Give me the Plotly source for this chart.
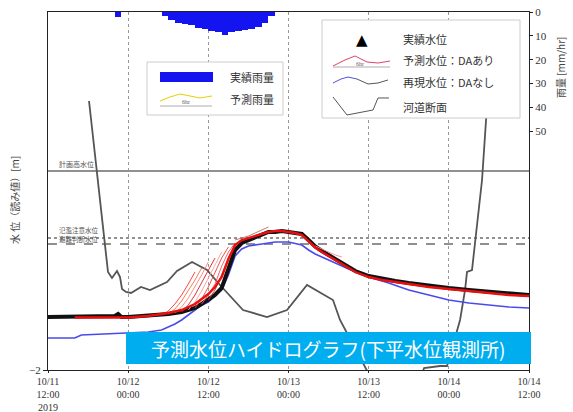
import pandas as pd
import plotly.graph_objects as go

T0 = pd.Timestamp("2019-10-11 12:00")

# ---------------- data ----------------
# hours after 2019-10-11 12:00
obs_hours = [0, 3, 6, 9, 10, 10.5, 11, 12, 15, 18, 20, 21, 22, 23, 24, 25, 26, 27, 28, 29, 30,
             31, 32, 33, 34, 35, 36, 37, 38, 39, 40, 41, 42, 43, 44, 45, 46, 48, 50, 52, 54,
             57, 60, 63, 66, 69, 72]
obs_level = [-0.94, -0.94, -0.94, -0.94, -0.92, -0.88, -0.94, -0.94, -0.92, -0.88, -0.84, -0.80,
             -0.76, -0.68, -0.60, -0.50, -0.36, 0.00, 0.40, 0.54, 0.60, 0.66, 0.70, 0.76, 0.76,
             0.78, 0.76, 0.74, 0.72, 0.60, 0.47, 0.38, 0.30, 0.22, 0.14, 0.06, -0.02, -0.12,
             -0.18, -0.22, -0.26, -0.32, -0.36, -0.40, -0.44, -0.48, -0.50]

da_hours = [4, 6, 9, 10, 11, 12, 15, 18, 20, 21, 22, 23, 24, 25, 26, 27, 28, 29, 30, 31, 32, 33,
            34, 35, 36, 37, 38, 39, 40, 41, 42, 43, 44, 45, 46, 48, 50, 52, 54, 57, 60, 63, 66,
            69, 72]
da_level = [-0.95, -0.95, -0.95, -0.94, -0.95, -0.95, -0.92, -0.86, -0.80, -0.74, -0.68, -0.58,
            -0.48, -0.34, -0.14, 0.22, 0.50, 0.60, 0.64, 0.68, 0.72, 0.76, 0.78, 0.78, 0.76,
            0.74, 0.70, 0.58, 0.45, 0.36, 0.28, 0.20, 0.12, 0.04, -0.04, -0.14, -0.20, -0.24,
            -0.28, -0.34, -0.38, -0.42, -0.46, -0.50, -0.52]

nda_hours = [0, 4, 5, 12, 15, 17, 19, 20, 21, 22, 23, 24, 25, 26, 27, 28, 29, 30, 32, 34, 36,
             38, 39, 40, 42, 45, 48, 51, 54, 57, 60, 63, 66, 69, 72]
nda_level = [-1.36, -1.36, -1.30, -1.26, -1.24, -1.20, -1.08, -1.00, -0.90, -0.80, -0.70, -0.64,
             -0.52, -0.40, -0.10, 0.28, 0.42, 0.48, 0.52, 0.56, 0.56, 0.50, 0.40, 0.32, 0.20,
             0.02, -0.14, -0.26, -0.40, -0.50, -0.60, -0.66, -0.70, -0.74, -0.76]

fc_start = [17, 18, 19, 20, 21, 22, 23, 24, 28, 40]
fc_values = [
    [-0.90, -0.82, -0.68, -0.50, -0.28, -0.04],
    [-0.88, -0.78, -0.62, -0.42, -0.20, 0.04],
    [-0.86, -0.74, -0.56, -0.34, -0.10, 0.16],
    [-0.84, -0.70, -0.50, -0.26, 0.00, 0.24],
    [-0.80, -0.64, -0.42, -0.16, 0.12, 0.36],
    [-0.76, -0.58, -0.34, -0.04, 0.24, 0.46],
    [-0.68, -0.50, -0.28, 0.08, 0.36, 0.54],
    [-0.60, -0.40, -0.10, 0.24, 0.50, 0.60],
    [0.60, 0.64, 0.68, 0.74, 0.80, 0.86],
    [0.48, 0.42, 0.36, 0.30, 0.26],
]
fc_colors = ["#ff3030", "#f07040", "#ff8080", "#d82020", "#f4a0a0", "#e84040",
             "#ff5050", "#c83030", "#b07060", "#f09090"]

sec_hours = [6.14, 8.98, 9.58, 10.33, 10.78, 11.08, 11.68, 12.43, 13.92, 15.27, 17.81, 19.31,
             21.56, 23.80, 25.75, 29.19, 32.78, 35.78, 38.77, 42.66, 43.71, 47.90, 48.5, 55.69,
             56.29, 58.68, 59.73, 61.68, 62.43, 62.72, 63.47, 63.92, 64.97, 66.17]
sec_level = [3.38, -0.04, -0.16, -0.02, -0.14, -0.38, -0.44, -0.46, -0.34, -0.40, -0.24, -0.02,
             0.16, 0.00, -0.30, -0.80, -0.94, -0.80, -0.30, -0.60, -1.00, -2.04, -2.2, -2.2,
             -1.96, -1.92, -1.92, -1.00, -0.40, -0.04, 0.00, 0.54, 1.80, 4.20]

rain_hours = [10, 17, 18, 19, 20, 21, 22, 23, 24, 25, 26, 27, 28, 29, 30, 31, 32, 33]
rain_mm = [2.0, 1.5, 3.5, 4.5, 5.0, 5.5, 6.5, 7.0, 8.0, 8.5, 9.5, 8.5, 8.0, 7.5, 7.0, 6.2, 4.5, 1.5]

levels = [1.98, 0.64, 0.52]
level_names = ["計画高水位", "氾濫注意水位", "避難判断水位"]

tick_hours = [0, 12, 24, 36, 48, 60, 72]
tick_text = ["10/11<br>12:00<br>2019", "10/12<br>00:00", "10/12<br>12:00", "10/13<br>00:00",
             "10/13<br>12:00", "10/14<br>00:00", "10/14<br>12:00"]


def t(hours):
    return [T0 + pd.Timedelta(hours=h) for h in hours]


# ---------------- layout helpers (page pixel -> paper) ----------------
W, H = 573, 412
PL, PR, PT, PB = 48, 529, 12, 370   # plot area in page pixels


def fx(px):
    return (px - PL) / (PR - PL)


def fy(py):
    return (PB - py) / (PB - PT)


def path(points):
    return "M " + " L ".join(f"{fx(a):.4f},{fy(b):.4f}" for a, b in points)


JP = "Noto Sans CJK JP"
SERIF = "Liberation Serif"

fig = go.Figure()

fig.add_trace(go.Bar(x=t([h + 0.5 for h in rain_hours]), y=rain_mm, yaxis="y2",
                     width=3600000, marker=dict(color="#1414f0", line=dict(width=0)),
                     showlegend=False))
fig.add_trace(go.Scatter(x=t(sec_hours), y=sec_level, mode="lines",
                         line=dict(color="#555555", width=1.8), showlegend=False))
fig.add_trace(go.Scatter(x=t(nda_hours), y=nda_level, mode="lines",
                         line=dict(color="#4a4aee", width=1.6), showlegend=False))
fig.add_trace(go.Scatter(x=t(obs_hours), y=obs_level, mode="lines",
                         line=dict(color="#111111", width=4), showlegend=False))
for s, vals, c in zip(fc_start, fc_values, fc_colors):
    fig.add_trace(go.Scatter(x=t([s + i for i in range(len(vals))]), y=vals, mode="lines",
                             line=dict(color=c, width=0.9), showlegend=False))
fig.add_trace(go.Scatter(x=t(da_hours), y=da_level, mode="lines",
                         line=dict(color="#e81010", width=2.4), showlegend=False))

shapes = []
annotations = []


def note(px, py, text, size, color="#333333", family=JP, xa="center", ya="middle", angle=0):
    annotations.append(dict(xref="paper", yref="paper", x=fx(px), y=fy(py), text=text,
                            showarrow=False, xanchor=xa, yanchor=ya, textangle=angle,
                            font=dict(family=family, size=size, color=color)))


# level lines
dashes = ["solid", "dot", "dash"]
for lv, d in zip(levels, dashes):
    shapes.append(dict(type="line", xref="paper", yref="y", x0=0, x1=1, y0=lv, y1=lv,
                       line=dict(color="#222222", width=1.1, dash=d), layer="below"))
note(57, 164, level_names[0], 7, "#555555", xa="left")
note(57, 230, level_names[1], 6.5, "#555555", xa="left")
note(57, 239, level_names[2], 6.5, "#555555", xa="left")

# legend 1 (rain)
shapes.append(dict(type="rect", xref="paper", yref="paper", x0=fx(147), x1=fx(283),
                   y0=fy(115), y1=fy(62), fillcolor="white",
                   line=dict(color="#cccccc", width=1)))
shapes.append(dict(type="rect", xref="paper", yref="paper", x0=fx(160), x1=fx(213),
                   y0=fy(82), y1=fy(72), fillcolor="#1414f0", line=dict(width=0)))
shapes.append(dict(type="path", xref="paper", yref="paper",
                   path=path([(160, 101), (170, 97), (180, 94), (190, 96), (200, 98), (212, 96)]),
                   line=dict(color="#e8d000", width=1)))
shapes.append(dict(type="line", xref="paper", yref="paper", x0=fx(160), x1=fx(212),
                   y0=fy(106), y1=fy(106), line=dict(color="#999999", width=0.8)))
note(186, 102, "6hr", 6, "#666666", family=SERIF)
note(228, 77, "実績雨量", 11, xa="left")
note(228, 99, "予測雨量", 11, xa="left")

# legend 2 (water level)
shapes.append(dict(type="rect", xref="paper", yref="paper", x0=fx(322), x1=fx(520),
                   y0=fy(118), y1=fy(20), fillcolor="white",
                   line=dict(color="#cccccc", width=1)))
note(362, 40, "▲", 15, "#000000", family="DejaVu Sans")
shapes.append(dict(type="path", xref="paper", yref="paper",
                   path=path([(333, 66), (345, 60), (355, 56), (367, 62), (378, 63), (390, 61)]),
                   line=dict(color="#e0406a", width=1)))
shapes.append(dict(type="line", xref="paper", yref="paper", x0=fx(333), x1=fx(390),
                   y0=fy(67), y1=fy(67), line=dict(color="#999999", width=0.8)))
note(360, 64, "6hr", 6, "#666666", family=SERIF)
shapes.append(dict(type="path", xref="paper", yref="paper",
                   path=path([(333, 83), (341, 79), (348, 77), (357, 79)]),
                   line=dict(color="#5050e0", width=1)))
shapes.append(dict(type="path", xref="paper", yref="paper",
                   path=path([(357, 79), (368, 84), (378, 83), (388, 80)]),
                   line=dict(color="#555555", width=1)))
shapes.append(dict(type="path", xref="paper", yref="paper",
                   path=path([(333, 97), (347, 115), (373, 110), (378, 98), (389, 98)]),
                   line=dict(color="#555555", width=1)))
for txt, yy in [("実績水位", 39), ("予測水位：DAあり", 60), ("再現水位：DAなし", 82), ("河道断面", 107)]:
    note(401, yy, txt, 11, xa="left")

# axis titles
note(14, 200, "水 位（読み値）[m]", 10, "#444444", angle=-90)
note(561, 68, "雨量 [mm/hr]", 10, "#444444", angle=-90)

# banner
shapes.append(dict(type="rect", xref="paper", yref="paper", x0=fx(126), x1=fx(531),
                   y0=fy(364), y1=fy(332), fillcolor="#00aeef", line=dict(width=0)))
note(328, 348, "予測水位ハイドログラフ(下平水位観測所)", 19, "white")

fig.update_layout(
    width=W, height=H,
    margin=dict(l=PL, r=W - PR, t=PT, b=H - PB, autoexpand=False),
    paper_bgcolor="white", plot_bgcolor="white",
    bargap=0,
    showlegend=False,
    shapes=shapes,
    annotations=annotations,
    xaxis=dict(type="date", range=[t([0])[0], t([72])[0]],
               tickvals=t(tick_hours), ticktext=tick_text,
               tickfont=dict(family=SERIF, size=10, color="#333333"),
               showgrid=True, gridcolor="#999999", griddash="dot", gridwidth=1,
               showline=True, linecolor="#222222", linewidth=1.3, mirror=True,
               ticks="outside", ticklen=2, tickcolor="#222222", zeroline=False,
               automargin=False),
    yaxis=dict(range=[-2, 5.16], tickvals=[-2], ticktext=["−2"],
               tickfont=dict(family=SERIF, size=11, color="#333333"),
               showgrid=False, zeroline=False, automargin=False,
               showline=True, linecolor="#222222", linewidth=1.3, mirror=True,
               ticks="outside", ticklen=4, tickcolor="#222222"),
    yaxis2=dict(overlaying="y", side="right", range=[150, 0],
                tickvals=[0, 10, 20, 30, 40, 50],
                tickfont=dict(family=SERIF, size=11, color="#333333"),
                showgrid=False, zeroline=False, automargin=False,
                showline=True, linecolor="#222222", linewidth=1.3,
                ticks="outside", ticklen=3, tickcolor="#222222"),
)

fig.write_html("out.html", config={"displayModeBar": False},
               post_script="document.body.style.margin='0';")
